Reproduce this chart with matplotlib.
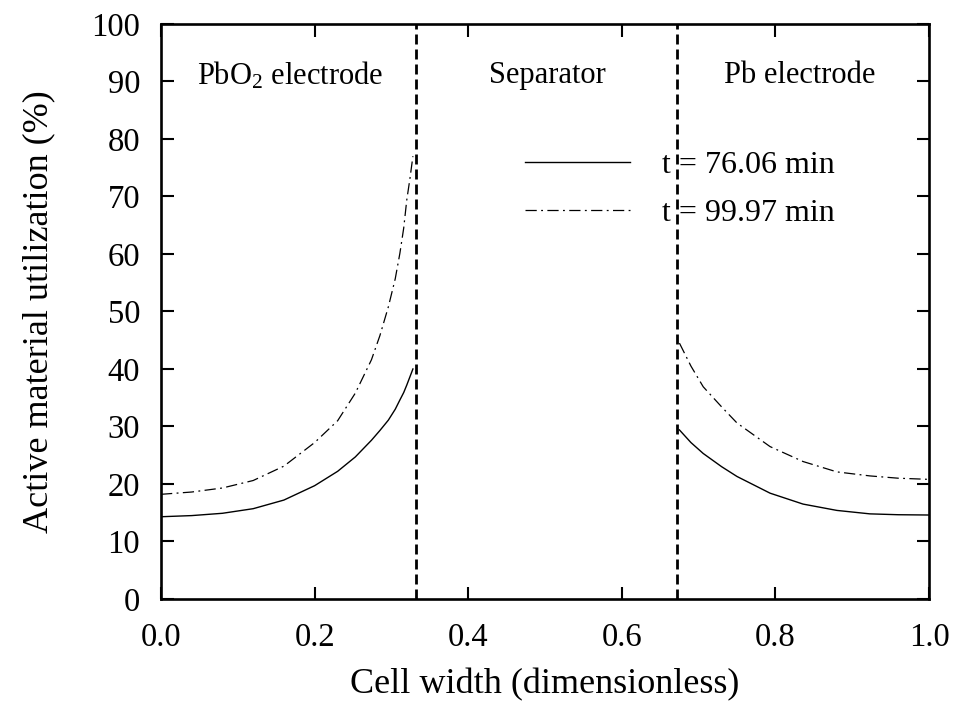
"""
Active material utilization across the cell (PbO2 | separator | Pb).
"""
import numpy as np
import matplotlib
matplotlib.use('Agg')
import matplotlib.pyplot as plt

plt.rcParams['font.family'] = ['Liberation Serif', 'DejaVu Serif']
plt.rcParams['mathtext.fontset'] = 'custom'
plt.rcParams['mathtext.rm'] = 'Liberation Serif'
plt.rcParams['mathtext.it'] = 'Liberation Serif:italic'

# region boundaries (dimensionless cell width)
boundaries = [0.332, 0.672]

# PbO2 electrode
x_left = [0.0, 0.04, 0.08, 0.12, 0.16, 0.20, 0.23, 0.253, 0.274, 0.285, 0.296,
          0.305, 0.311, 0.316, 0.320, 0.324, 0.328]
u76_left = [14.3, 14.5, 14.9, 15.7, 17.2, 19.7, 22.2, 24.7, 27.6, 29.3, 31.1,
            33.0, 34.6, 35.9, 37.2, 38.6, 40.0]
u100_left = [18.2, 18.6, 19.3, 20.6, 23.1, 27.2, 31.0, 35.8, 41.6, 45.8, 50.8,
             55.7, 60.1, 64.5, 69.4, 73.0, 77.0]

# Pb electrode
x_right = [0.675, 0.69, 0.706, 0.73, 0.75, 0.793, 0.836, 0.88, 0.923, 0.96, 1.0]
u76_right = [29.4, 27.2, 25.3, 23.0, 21.3, 18.4, 16.5, 15.4, 14.8, 14.65, 14.6]
u100_right = [44.5, 40.5, 36.9, 33.4, 30.6, 26.5, 23.9, 22.1, 21.4, 21.0, 20.8]

labels = ['t = 76.06 min', 't = 99.97 min']
regions = ['PbO$_2$ electrode', 'Separator', 'Pb electrode']
region_x = [0.168, 0.503, 0.832]

fig = plt.figure(figsize=(9.55, 7.24), dpi=100)
ax = fig.add_axes([0.1686, 0.1727, 0.8042, 0.7942])

dashdot = (0, (9, 3.5, 1.5, 3.5))
ax.plot(x_left, u76_left, color='k', lw=1.0, label=labels[0])
ax.plot(x_left, u100_left, color='k', lw=0.9, linestyle=dashdot, label=labels[1])
ax.plot(x_right, u76_right, color='k', lw=1.0)
ax.plot(x_right, u100_right, color='k', lw=0.9, linestyle=dashdot)

for b in boundaries:
    ax.axvline(b, color='k', lw=2.0, linestyle=(0, (3.6, 1.8)))

for xr, name in zip(region_x, regions):
    ax.text(xr, 91.0, name, ha='center', va='center', fontsize=22)

ax.set_xlim(0, 1)
ax.set_ylim(0, 100)
ax.set_xticks(np.arange(0, 1.01, 0.2))
ax.set_yticks(np.arange(0, 101, 10))
ax.set_xticklabels(['%.1f' % v for v in np.arange(0, 1.01, 0.2)])
ax.tick_params(direction='in', length=9, width=1.5, labelsize=23.5,
               top=True, right=True)
ax.tick_params(axis='x', pad=17)
ax.tick_params(axis='y', pad=15)
for s in ax.spines.values():
    s.set_linewidth(1.9)

ax.set_xlabel('Cell width (dimensionless)', fontsize=26, labelpad=11)
ax.set_ylabel('Active material utilization (%)', fontsize=26, labelpad=26)

leg = ax.legend(loc='upper left', bbox_to_anchor=(0.474, 0.78), frameon=False,
                fontsize=23, handlelength=3.3, handletextpad=1.0, labelspacing=0.6,
                borderpad=0, borderaxespad=0)

fig.savefig('out.png', dpi=100)
